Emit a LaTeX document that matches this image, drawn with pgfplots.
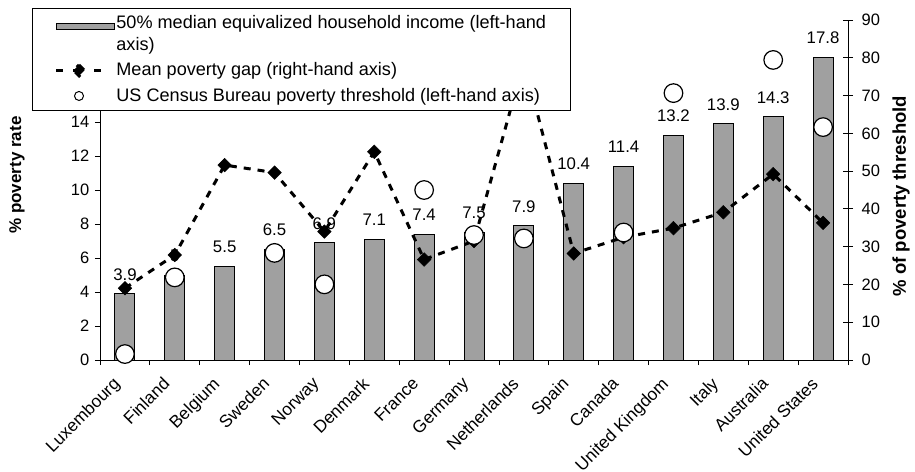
\documentclass[border=0pt]{standalone}
\usepackage{fontspec}
\setmainfont{Liberation Sans}
\usepackage{pgfplots}
\pgfplotsset{compat=1.18}
\definecolor{bargray}{HTML}{A0A0A0}
\begin{document}
\fontsize{16.5}{19}\selectfont
\begin{tikzpicture}[font=\fontsize{16.5}{19}\selectfont]
\pgfplotsset{
  base/.style={
    scale only axis, width=748pt, height=340pt,
    at={(100pt,111pt)}, anchor=south west,
    xmin=-0.5, xmax=14.5,
    /pgf/number format/assume math mode=true,
    tick style={black, line width=0.8pt},
    axis line style={black, line width=0.8pt},
  },
}
% ---------- left axis: bars ----------
\begin{axis}[base,
  ymin=0, ymax=20,
  axis x line*=bottom, axis y line*=left,
  ytick={0,2,...,20},
  xtick={0,...,14},
  xticklabels={Luxembourg,Finland,Belgium,Sweden,Norway,Denmark,France,Germany,Netherlands,Spain,Canada,United Kingdom,Italy,Australia,United States},
  major x tick style={draw=none},
  minor xtick={-0.5,0.5,...,14.5},
  tick align=outside,
  major tick length=5pt, minor tick length=5pt,
  xticklabel style={xshift=-13pt, yshift=-11pt, rotate=45, anchor=north east, inner sep=0pt, font=\fontsize{17.3}{20}\selectfont},
  ylabel={\textbf{\% poverty rate}},
  ylabel style={at={(axis description cs:-0.111,0.544)}, anchor=center, font=\fontsize{17}{20}\selectfont},
]
\addplot[ybar, bar width=20pt, fill=bargray, draw=black, line width=0.9pt,
  nodes near coords,
  every node near coord/.append style={inner sep=0pt, yshift=13pt, black, font=\fontsize{16.8}{19}\selectfont}]
  coordinates {(0,3.9) (1,5) (2,5.5) (3,6.5) (4,6.9) (5,7.1) (6,7.4) (7,7.5) (8,7.9) (9,10.4) (10,11.4) (11,13.2) (12,13.9) (13,14.3) (14,17.8)};
\end{axis}
% ---------- right axis: mean poverty gap ----------
\begin{axis}[base,
  ymin=0, ymax=90, ytick={0,10,...,90},
  axis y line*=right, axis x line=none,
  tick align=center, major tick length=10pt,
  yticklabel style={xshift=3pt},
  ylabel={\textbf{\% of poverty threshold}},
  ylabel style={at={(axis description cs:1.071,0.482)}, anchor=center, font=\fontsize{18.5}{22}\selectfont},
  legend cell align=left,
  legend style={at={(axis description cs:-0.0909,1.0353)}, anchor=north west,
    draw=black, line width=1pt, fill=white,
    font=\fontsize{18.1}{22}\selectfont,
    cells={anchor=west, align=left},
    inner xsep=22pt, inner ysep=4.5pt,
    nodes={inner sep=2pt},
    row sep=6pt,
    /tikz/every even column/.append style={column sep=2pt}},
]
\addlegendimage{legend image code/.code={\draw[fill=bargray, draw=black, line width=0.8pt] (0pt,4pt) rectangle (58pt,10pt);}}
\addlegendentry{50\% median equivalized household income (left-hand\\axis)}
\addplot[black, line width=3pt, dash pattern=on 7pt off 7pt,
  mark=square*, mark size=4.8pt, mark options={rotate=45, solid, line width=0.5pt},
  legend image code/.code={
    \draw[black, line width=3pt] (0pt,0pt) -- (8pt,0pt);
    \draw[black, line width=3pt] (17pt,0pt) -- (20pt,0pt);
    \draw[black, line width=3pt] (38pt,0pt) -- (47pt,0pt);
    \fill[black] (23pt,5.5pt) -- (28.5pt,0pt) -- (23pt,-5.5pt) -- (17.5pt,0pt) -- cycle;}]
  coordinates {(0,19.0) (1,27.8) (2,51.6) (3,49.6) (4,34.0) (5,55.1) (6,26.6) (7,31.5) (8,79) (9,28.2) (10,32.5) (11,34.9) (12,39.1) (13,49.2) (14,36.3)};
\addlegendentry{Mean poverty gap (right-hand axis)}
\addlegendimage{legend image code/.code={\draw[fill=white, draw=black, line width=1pt] (23pt,0pt) circle (4.5pt);}}
\addlegendentry{US Census Bureau poverty threshold (left-hand axis)}
\end{axis}
% ---------- left axis again: census threshold circles ----------
\begin{axis}[base, ymin=0, ymax=20, hide axis, clip=false]
\addplot[only marks, mark=*, mark size=9.3pt, mark options={fill=white, draw=black, line width=1.2pt}]
  coordinates {(0,0.35) (1,4.86) (3,6.3) (4,4.45) (6,10.0) (7,7.35) (8,7.15) (10,7.5) (11,15.7) (13,17.65) (14,13.7)};
\end{axis}
\pgfresetboundingbox
\path (0pt,0pt) rectangle (915pt,471pt);
\end{tikzpicture}
\end{document}
